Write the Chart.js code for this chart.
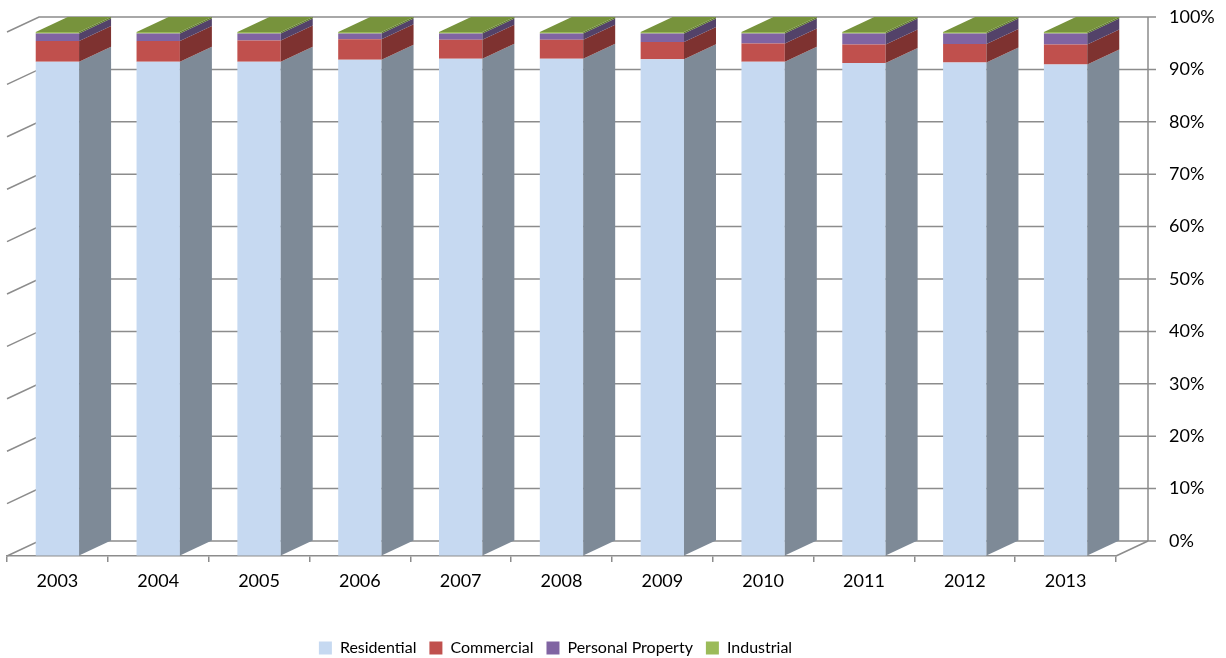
<!DOCTYPE html>
<html>
<head>
<meta charset="utf-8">
<script src="https://cdn.jsdelivr.net/npm/chart.js@4.4.1/dist/chart.umd.min.js"></script>
<style>
  body { margin: 0; background: #fff; }
  #wrap { width: 1226px; height: 658px; position: relative; }
</style>
</head>
<body>
<div id="wrap"><canvas id="shareChart"></canvas></div>
<script>
var years = ['2003', '2004', '2005', '2006', '2007', '2008', '2009', '2010', '2011', '2012', '2013'];
var residential = [94.3, 94.3, 94.3, 94.7, 94.9, 94.9, 94.8, 94.3, 94.1, 94.2, 93.8];
var commercial = [4.0, 4.0, 4.1, 3.9, 3.6, 3.6, 3.3, 3.5, 3.5, 3.5, 3.8];
var personalProperty = [1.4, 1.4, 1.3, 1.1, 1.2, 1.2, 1.6, 1.9, 2.1, 2.0, 2.1];
var industrial = [0.3, 0.3, 0.3, 0.3, 0.3, 0.3, 0.3, 0.3, 0.3, 0.3, 0.3];
var percentTicks = [0, 10, 20, 30, 40, 50, 60, 70, 80, 90, 100];

// depth of the fake 3d extrusion
var DX = 32;
var DY = 15;
var lineColor = '#8c8c8c';

var sideColors = ['#7e8a97', '#7e3230', '#534269', '#5f7a2e'];
var topColors = ['#a9bfdc', '#a0403d', '#6a5288', '#77933c'];

var depthPlugin = {
    id: 'depth',
    afterLayout: function (chart) {
        // excel centres the legend under the plot, not the canvas
        var lg = chart.legend;
        lg.left -= 61;
        lg.right -= 61;
        lg.top += 8;
        lg.bottom += 8;
    },
    beforeDatasetsDraw: function (chart) {
        var ctx = chart.ctx;
        var area = chart.chartArea;
        var y = chart.scales.y;
        ctx.save();
        ctx.strokeStyle = lineColor;
        ctx.lineWidth = 1.5;
        percentTicks.forEach(function (v) {
            var py = y.getPixelForValue(v);
            ctx.beginPath();
            ctx.moveTo(area.left, py);
            ctx.lineTo(area.left + DX, py - DY);
            ctx.lineTo(area.right + DX, py - DY);
            ctx.lineTo(area.right + DX + 8, py - DY);
            ctx.stroke();
        });
        var y0 = y.getPixelForValue(0);
        var y100 = y.getPixelForValue(100);
        ctx.beginPath();
        ctx.moveTo(area.right + DX, y0 - DY);
        ctx.lineTo(area.right + DX, y100 - DY);
        ctx.moveTo(area.right, y0);
        ctx.lineTo(area.right + DX, y0 - DY);
        ctx.stroke();
        ctx.restore();
    },
    afterDatasetsDraw: function (chart) {
        var ctx = chart.ctx;
        var n = chart.data.datasets.length;
        ctx.save();
        chart.data.datasets.forEach(function (ds, di) {
            var meta = chart.getDatasetMeta(di);
            meta.data.forEach(function (bar) {
                var p = bar.getProps(['x', 'y', 'base', 'width'], true);
                var left = p.x - p.width / 2;
                var right = p.x + p.width / 2;
                ctx.fillStyle = sideColors[di];
                ctx.beginPath();
                ctx.moveTo(right, p.y);
                ctx.lineTo(right + DX, p.y - DY);
                ctx.lineTo(right + DX, p.base - DY);
                ctx.lineTo(right, p.base);
                ctx.closePath();
                ctx.fill();
                if (di === n - 1) {
                    ctx.fillStyle = topColors[di];
                    ctx.beginPath();
                    ctx.moveTo(left, p.y);
                    ctx.lineTo(right, p.y);
                    ctx.lineTo(right + DX, p.y - DY);
                    ctx.lineTo(left + DX, p.y - DY);
                    ctx.closePath();
                    ctx.fill();
                }
            });
        });
        ctx.restore();
    }
};

var ctx = document.getElementById('shareChart').getContext('2d');

new Chart(ctx, {
    type: 'bar',
    data: {
        labels: years,
        datasets: [
            { label: 'Residential', data: residential, backgroundColor: '#c6d9f1' },
            { label: 'Commercial', data: commercial, backgroundColor: '#c0504d' },
            { label: 'Personal Property', data: personalProperty, backgroundColor: '#8064a2' },
            { label: 'Industrial', data: industrial, backgroundColor: '#9bbb59' }
        ]
    },
    options: {
        responsive: true,
        maintainAspectRatio: false,
        animation: false,
        datasets: {
            bar: {
                categoryPercentage: 1,
                barPercentage: 0.43,
                borderWidth: 0
            }
        },
        layout: {
            padding: { top: 32, left: 7, right: 0, bottom: 0 }
        },
        scales: {
            x: {
                stacked: true,
                grid: {
                    display: true,
                    drawOnChartArea: false,
                    offset: true,
                    tickLength: 6,
                    color: lineColor,
                    lineWidth: 1.5
                },
                border: { color: lineColor, width: 1.5 },
                ticks: {
                    color: '#000',
                    padding: 8,
                    font: { family: 'Lato', size: 18 }
                },
                afterFit: function (scale) {
                    scale.height = 63;
                }
            },
            y: {
                stacked: true,
                position: 'right',
                min: 0,
                max: 100,
                // invisible long tick marks push the labels out to the back wall
                grid: {
                    display: true,
                    drawOnChartArea: false,
                    drawTicks: true,
                    tickLength: 53,
                    color: 'rgba(0,0,0,0)'
                },
                border: { display: false },
                ticks: {
                    stepSize: 10,
                    padding: 0,
                    labelOffset: -DY,
                    color: '#000',
                    font: { family: 'Lato', size: 18 },
                    callback: function (v) { return v + '%'; }
                },
                afterFit: function (scale) {
                    scale.width = 110;
                }
            }
        },
        plugins: {
            legend: {
                position: 'bottom',
                labels: {
                    boxWidth: 13,
                    boxHeight: 13,
                    padding: 13,
                    color: '#000',
                    font: { family: 'Lato', size: 16 }
                }
            },
            tooltip: { enabled: false }
        }
    },
    plugins: [depthPlugin]
});
</script>
</body>
</html>
